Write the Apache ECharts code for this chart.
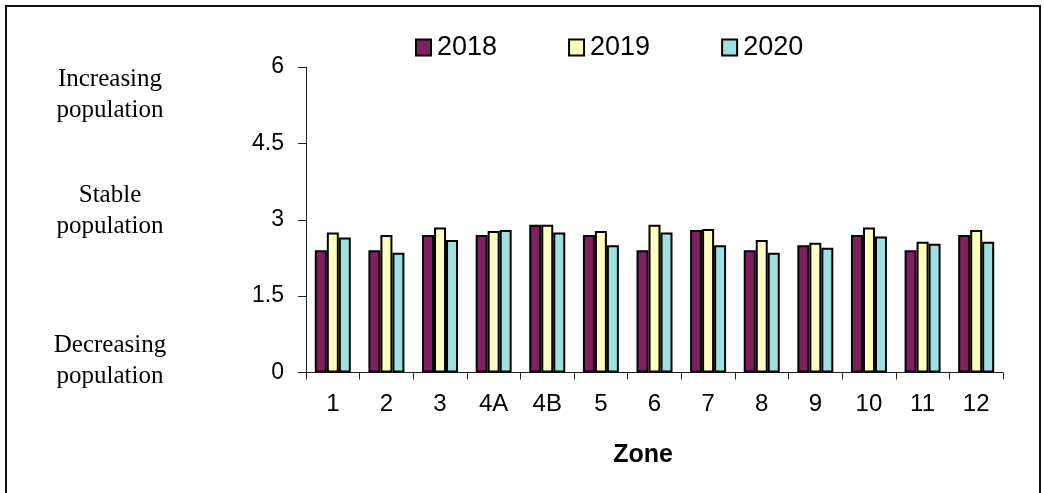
<!DOCTYPE html>
<html>
<head>
<meta charset="utf-8">
<script src="https://cdn.jsdelivr.net/npm/echarts@6/dist/echarts.min.js"></script>
<style>
  html, body { margin: 0; padding: 0; background: #fff; }
  #chart { width: 1044px; height: 493px; }
</style>
</head>
<body>
<div id="chart"></div>
<script>
// Zones along the x axis
const zones = ['1', '2', '3', '4A', '4B', '5', '6', '7', '8', '9', '10', '11', '12'];

// Population trend index per zone and year
const values2018 = [2.4, 2.4, 2.7, 2.7, 2.9, 2.7, 2.4, 2.8, 2.4, 2.5, 2.7, 2.4, 2.7];
const values2019 = [2.75, 2.7, 2.85, 2.78, 2.9, 2.78, 2.9, 2.82, 2.6, 2.55, 2.85, 2.57, 2.8];
const values2020 = [2.65, 2.35, 2.6, 2.8, 2.75, 2.5, 2.75, 2.5, 2.35, 2.45, 2.67, 2.53, 2.57];

const years = ['2018', '2019', '2020'];
const yTicks = { min: 0, max: 6, interval: 1.5 };

const colors = ['#802060', '#ffffc0', '#a0e0e0'];
const sans = 'Liberation Sans, Arial, sans-serif';
const serif = 'Liberation Serif, Times New Roman, serif';

const chart = echarts.init(document.getElementById('chart'), null, { renderer: 'canvas' });

function barSeries(name, data, color) {
  return {
    name: name,
    type: 'bar',
    data: data,
    barWidth: 12,
    barGap: '0%',
    itemStyle: { color: color, borderColor: '#000', borderWidth: 2 },
    emphasis: { disabled: true }
  };
}

// Side notes explaining the scale, drawn as two-line centred blocks
function sideNote(text, y) {
  return {
    type: 'text',
    x: 110,
    y: y,
    style: {
      text: text,
      fontFamily: serif,
      fontSize: 25,
      lineHeight: 31,
      fill: '#000',
      align: 'center',
      verticalAlign: 'middle'
    }
  };
}

chart.setOption({
  animation: false,
  backgroundColor: '#fff',
  legend: {
    data: years,
    left: 415,
    top: 34,
    padding: 0,
    itemWidth: 15,
    itemHeight: 16,
    itemGap: 71,
    icon: 'rect',
    textStyle: { fontFamily: sans, fontSize: 27, color: '#000', padding: [0, 0, 0, 1] },
    selectedMode: false
  },
  grid: { left: 306, right: 41, top: 67, bottom: 120.5, containLabel: false },
  xAxis: {
    type: 'category',
    data: zones,
    axisLine: { lineStyle: { color: '#222', width: 1 } },
    axisTick: { show: true, length: 7, lineStyle: { color: '#222' } },
    axisLabel: { fontFamily: sans, fontSize: 24, color: '#000', margin: 20, interval: 0 }
  },
  yAxis: {
    type: 'value',
    min: yTicks.min,
    max: yTicks.max,
    interval: yTicks.interval,
    axisLine: { show: true, lineStyle: { color: '#222', width: 1 } },
    axisTick: { show: true, length: 8, lineStyle: { color: '#222' } },
    axisLabel: { fontFamily: sans, fontSize: 23, color: '#000', margin: 22 },
    splitLine: { show: false }
  },
  series: [
    barSeries(years[0], values2018, colors[0]),
    barSeries(years[1], values2019, colors[1]),
    barSeries(years[2], values2020, colors[2])
  ],
  graphic: [
    {
      type: 'rect',
      shape: { x: 6, y: 6, width: 1034, height: 500 },
      style: { fill: 'none', stroke: '#111', lineWidth: 2 },
      silent: true
    },
    sideNote('Increasing\npopulation', 95),
    sideNote('Stable\npopulation', 211),
    sideNote('Decreasing\npopulation', 361),
    {
      type: 'text',
      x: 643,
      y: 455,
      style: {
        text: 'Zone',
        fontFamily: sans,
        fontSize: 25,
        fontWeight: 'bold',
        fill: '#000',
        align: 'center',
        verticalAlign: 'middle'
      }
    }
  ]
});
</script>
</body>
</html>
